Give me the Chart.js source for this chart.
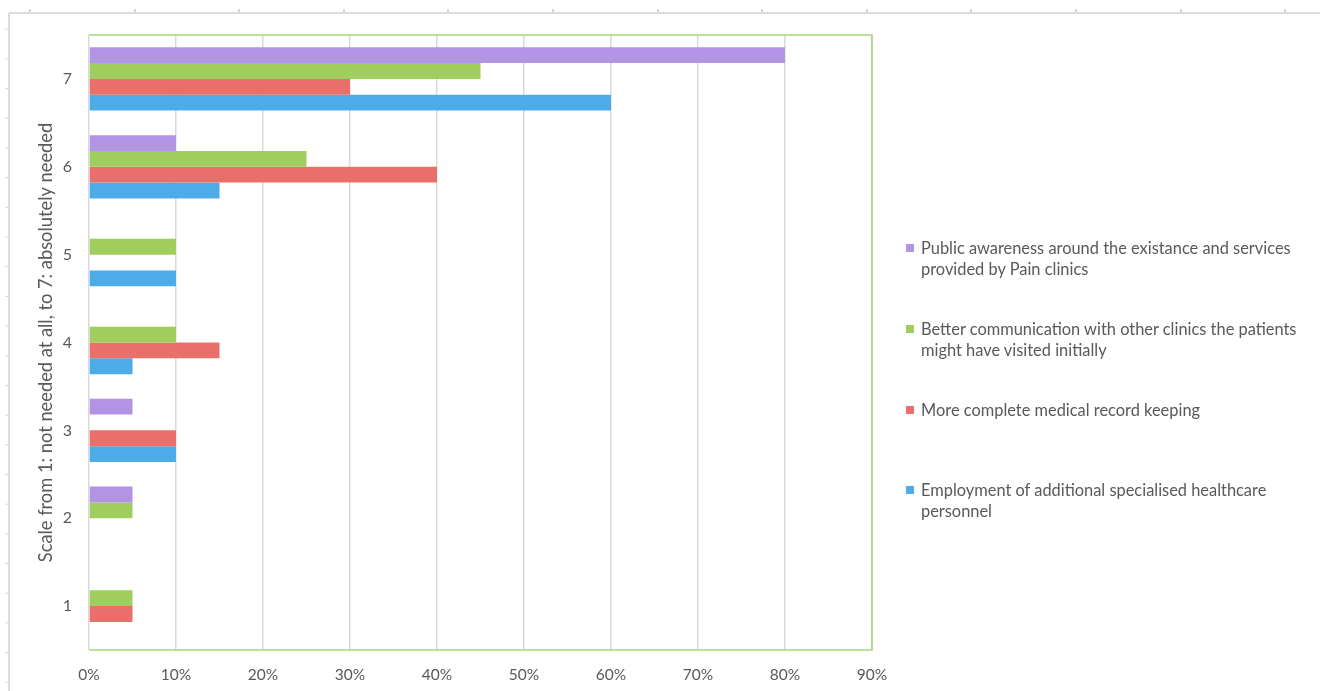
<!DOCTYPE html>
<html lang="en">
<head>
  <meta charset="UTF-8">
  <title>Scale of need - Pain clinics</title>
  <script src="https://cdn.jsdelivr.net/npm/chart.js"></script>
  <style>
    html, body { margin: 0; padding: 0; background: #fff; }
    body { width: 1320px; height: 691px; position: relative; overflow: hidden; font-family: Lato, "Open Sans", sans-serif; }
    /* faint spreadsheet frame behind the chart */
    .sheet-top { position: absolute; left: 9px; top: 12px; width: 1311px; height: 2px; background: #dcdcdc; }
    .sheet-top-ticks { position: absolute; left: 0; top: 9px; width: 1320px; height: 4px;
      background: repeating-linear-gradient(90deg, transparent 0 29px, #d6d6d6 29px 31px, transparent 31px 104.6px);
      background-position: 0 0; }
    .sheet-left { position: absolute; left: 8px; top: 13px; width: 2px; height: 678px; background: #dcdcdc; }
    .sheet-left-ticks { position: absolute; left: 5px; top: 0; width: 4px; height: 691px;
      background: repeating-linear-gradient(180deg, transparent 0 29px, #d6d6d6 29px 31px);
      background-size: 4px 29.7px; }
    .wrap { position: absolute; left: 0; top: 0; width: 1320px; height: 691px; }
    #legend { position: absolute; left: 906px; top: 0; width: 414px; height: 691px; }
    .legend-item { position: absolute; left: 0; display: flex; align-items: flex-start; }
    .legend-box { width: 8px; height: 8px; margin-top: 7px; margin-right: 7px; flex: none; }
    .legend-text { font-size: 16.4px; line-height: 21px; color: #595959; white-space: pre; }
  </style>
</head>
<body>
  <div class="sheet-top-ticks"></div>
  <div class="sheet-left-ticks"></div>
  <div class="sheet-top"></div>
  <div class="sheet-left"></div>

  <div class="wrap">
    <canvas id="needChart" width="1320" height="691"></canvas>
  </div>
  <div id="legend"></div>

  <script>
    // Categories top to bottom
    const scaleLabels = ['7', '6', '5', '4', '3', '2', '1'];

    // Share of respondents (%) per scale step
    const publicAwareness   = [80, 10, 0, 0, 5, 5, 0];
    const betterComm        = [45, 25, 10, 10, 0, 5, 5];
    const recordKeeping     = [30, 40, 0, 15, 10, 0, 5];
    const extraPersonnel    = [60, 15, 10, 5, 10, 0, 0];

    const seriesNames = [
      'Public awareness around the existance and services\nprovided by Pain clinics',
      'Better communication with other clinics the patients\nmight have visited initially',
      'More complete medical record keeping',
      'Employment of additional specialised healthcare\npersonnel'
    ];
    const seriesColors = ['#b393e4', '#9fce5f', '#e9706a', '#4cace7'];

    const xTicks = [0, 10, 20, 30, 40, 50, 60, 70, 80, 90];

    const textColor = '#595959';
    const gridColor = '#d9d9d9';
    const frameGreen = '#a6d57a';

    // green frame around the plot area (left side keeps the grey 0% line)
    const plotFrame = {
      id: 'plotFrame',
      beforeDatasetsDraw(chart) {
        const { ctx, chartArea: a } = chart;
        ctx.save();
        ctx.strokeStyle = frameGreen;
        ctx.lineWidth = 1.5;
        ctx.beginPath();
        ctx.moveTo(a.left, a.top);
        ctx.lineTo(a.right, a.top);
        ctx.lineTo(a.right, a.bottom);
        ctx.lineTo(a.left, a.bottom);
        ctx.stroke();
        ctx.restore();
      }
    };

    const allSeries = [publicAwareness, betterComm, recordKeeping, extraPersonnel];

    const chart = new Chart(document.getElementById('needChart').getContext('2d'), {
      type: 'bar',
      data: {
        labels: scaleLabels,
        datasets: allSeries.map((vals, i) => ({
          label: seriesNames[i],
          data: vals,
          backgroundColor: seriesColors[i],
          borderWidth: 0,
          categoryPercentage: 0.72,
          barPercentage: 1.0
        }))
      },
      options: {
        indexAxis: 'y',
        responsive: false,
        animation: false,
        layout: { padding: { left: 31, right: 448, top: 35, bottom: 0 } },
        plugins: {
          legend: { display: false },
          tooltip: { enabled: false }
        },
        scales: {
          x: {
            min: 0,
            max: 90,
            afterBuildTicks(axis) {
              axis.ticks = xTicks.map(v => ({ value: v }));
            },
            afterFit(axis) { axis.height = 41; },
            grid: { color: gridColor, lineWidth: 1.5, drawTicks: false },
            border: { display: false },
            ticks: {
              color: textColor,
              padding: 16,
              font: { family: 'Lato', size: 15.5 },
              callback: v => v + '%'
            }
          },
          y: {
            afterFit(axis) { axis.width = 58; },
            grid: { display: false, drawTicks: false },
            border: { display: false },
            ticks: {
              color: textColor,
              padding: 17,
              font: { family: 'Lato', size: 16 }
            },
            title: {
              display: true,
              text: 'Scale from 1: not needed at all, to 7: absolutely needed',
              color: textColor,
              font: { family: 'Lato', size: 18.3 },
              padding: { top: 4, bottom: 0 }
            }
          }
        }
      },
      plugins: [plotFrame]
    });

    // HTML legend built from the datasets (labels wrap onto two lines)
    function buildLegend(c) {
      const box = document.getElementById('legend');
      box.innerHTML = '';
      c.data.datasets.forEach((ds, i) => {
        const item = document.createElement('div');
        item.className = 'legend-item';
        item.style.top = (237 + i * 80.8) + 'px';
        const sw = document.createElement('span');
        sw.className = 'legend-box';
        sw.style.background = ds.backgroundColor;
        const tx = document.createElement('span');
        tx.className = 'legend-text';
        tx.textContent = ds.label;
        item.appendChild(sw);
        item.appendChild(tx);
        box.appendChild(item);
      });
    }
    buildLegend(chart);
  </script>
</body>
</html>
